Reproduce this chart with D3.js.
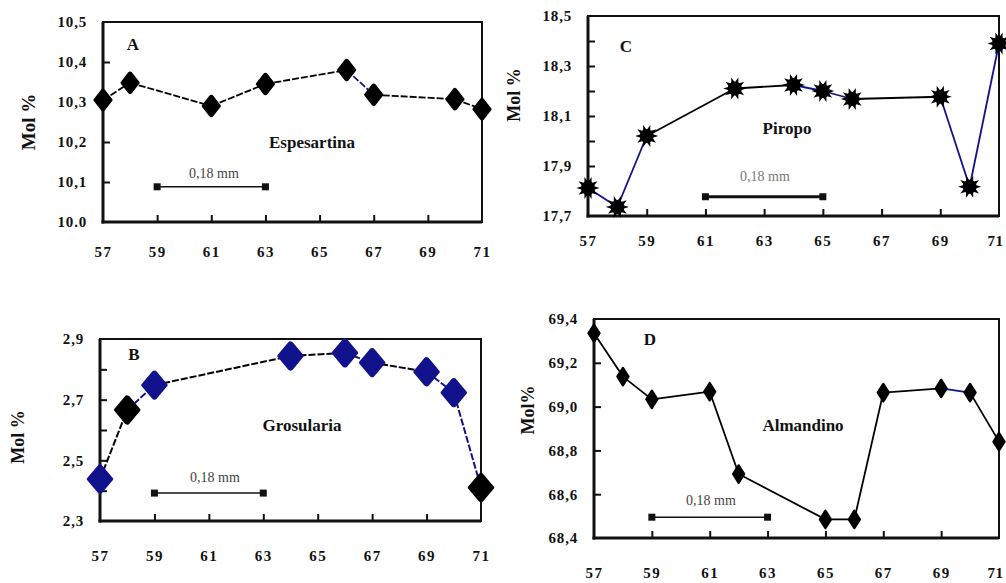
<!DOCTYPE html>
<html><head><meta charset="utf-8">
<script src="https://cdn.jsdelivr.net/npm/d3@7"></script>
<style>body{margin:0;background:#fff;}svg{display:block;}</style>
</head><body>
<svg id="c" width="1006" height="583"></svg>
<script>
// ---- data ----
const xTicks = [57, 59, 61, 63, 65, 67, 69, 71];
const xTickLabels = ["57", "59", "61", "63", "65", "67", "69", "71"];

const xA = [57, 58, 61, 63, 66, 67, 70, 71];
const yA = [10.305, 10.348, 10.29, 10.345, 10.38, 10.318, 10.307, 10.282];
const segColorA = ["k", "k", "k", "k", "b", "k", "k"];
const yTicksA = [10.0, 10.1, 10.2, 10.3, 10.4, 10.5];
const yLabelsA = ["10.0", "10,1", "10,2", "10,3", "10,4", "10,5"];

const xB = [57, 58, 59, 64, 66, 67, 69, 70, 71];
const yB = [2.438, 2.666, 2.748, 2.844, 2.854, 2.822, 2.792, 2.723, 2.41];
const markerColorB = ["b", "k", "b", "b", "b", "b", "b", "b", "k"];
const segColorB = ["k", "b", "k", "k", "b", "k", "b", "b"];
const yTicksB = [2.3, 2.4, 2.5, 2.6, 2.7, 2.8, 2.9];
const yLabelsB = ["2,3", "", "2,5", "", "2,7", "", "2,9"];

const xC = [57, 58, 59, 62, 64, 65, 66, 69, 70, 71];
const yC = [17.812, 17.736, 18.02, 18.21, 18.224, 18.2, 18.168, 18.177, 17.817, 18.39];
const segColorC = ["b", "b", "k", "k", "b", "b", "k", "b", "b"];
const yTicksC = [17.7, 17.8, 17.9, 18.0, 18.1, 18.2, 18.3, 18.4, 18.5];
const yLabelsC = ["17,7", "", "17,9", "", "18,1", "", "18,3", "", "18,5"];

const xD = [57, 58, 59, 61, 62, 65, 66, 67, 69, 70, 71];
const yD = [69.335, 69.137, 69.033, 69.068, 68.692, 68.485, 68.485, 69.064, 69.083, 69.064, 68.84];
const segColorD = ["k", "k", "k", "k", "k", "k", "k", "k", "b", "k"];
const yTicksD = [68.4, 68.6, 68.8, 69.0, 69.2, 69.4];
const yLabelsD = ["68,4", "68,6", "68,8", "69,0", "69,2", "69,4"];

const panelLetters = ["A", "B", "C", "D"];
const mineralNames = ["Espesartina", "Grosularia", "Piropo", "Almandino"];
const yTitles = ["Mol %", "Mol %", "Mol %", "Mol%"];
const scaleText = ["0,18 mm", "0,18 mm", "0,18 mm", "0,18 mm"];
const scaleBarFrom = [59, 59, 61, 59];
const scaleBarTo = [63, 63, 65, 63];
const scaleBarY = [10.088, 2.392, 17.777, 68.495];

// ---- drawing ----
const svg = d3.select("#c");
const COL = {k: "#000", b: "#12128c"};
const serif = "'Liberation Serif','DejaVu Serif',serif";

const panels = [
  {x: xA, y: yA, seg: segColorA, mc: null, yt: yTicksA, yl: yLabelsA, dom: [10.0, 10.5],
   box: [103, 482, 22, 222], xLabY: 254, marker: "dia", ms: 110, sx: 1.35, sw: 3, titleX: 28, titleY: 122, titleSize: 19,
   letter: [133, 50], name: [312, 148], sText: [214, 178]},
  {x: xB, y: yB, seg: segColorB, mc: markerColorB, yt: yTicksB, yl: yLabelsB, dom: [2.3, 2.9],
   box: [100, 481, 339, 521], xLabY: 558, marker: "dia", ms: 190, sx: 1.45, sw: 3.5, titleX: 18, titleY: 437, titleSize: 18,
   letter: [134, 360], name: [302, 431], sText: [215, 482]},
  {x: xC, y: yC, seg: segColorC, mc: null, yt: yTicksC, yl: yLabelsC, dom: [17.7, 18.5],
   box: [588, 999, 16, 216], xLabY: 243, marker: "star", ms: 150, titleX: 514, titleY: 95, titleSize: 18,
   letter: [626, 52], name: [787, 134], sText: [765, 181]},
  {x: xD, y: yD, seg: segColorD, mc: null, yt: yTicksD, yl: yLabelsD, dom: [68.4, 69.4],
   box: [594, 999, 319, 538], xLabY: 575, marker: "dia", ms: 90, sx: 1.1, sw: 2, titleX: 528, titleY: 410, titleSize: 18,
   letter: [650, 345], name: [803, 431], sText: [711, 505]}
];

panels.forEach((p, i) => {
  const [L, R, T, B] = p.box;
  const xs = d3.scaleLinear().domain([57, 71]).range([L, R]);
  const ys = d3.scaleLinear().domain(p.dom).range([B, T]);
  const g = svg.append("g");

  // box
  g.append("rect").attr("x", L).attr("y", T).attr("width", R - L).attr("height", B - T)
    .attr("fill", "none").attr("stroke", "#111").attr("stroke-width", 2);
  g.append("line").attr("x1", L).attr("x2", L).attr("y1", T).attr("y2", B + 1.5).attr("stroke", "#111").attr("stroke-width", 3);
  g.append("line").attr("x1", L - 1.5).attr("x2", R).attr("y1", B).attr("y2", B).attr("stroke", "#111").attr("stroke-width", 3);

  // y axis
  const yAx = g.append("g").attr("transform", `translate(${L},0)`)
    .call(d3.axisRight(ys).tickValues(p.yt).tickSize(7).tickFormat(() => ""));
  yAx.select(".domain").remove();
  yAx.selectAll("line").attr("stroke", "#111").attr("stroke-width", 2);
  yAx.selectAll(".tick").filter(d => d === p.dom[0] || d === p.dom[1]).remove();
  const yLab = g.append("g").attr("transform", `translate(${L - 13},0)`)
    .call(d3.axisLeft(ys).tickValues(p.yt).tickSize(0).tickFormat((d, j) => p.yl[j]));
  yLab.select(".domain").remove();
  yLab.selectAll("text").attr("font-family", serif).attr("font-weight", "bold").attr("font-size", 15)
    .attr("letter-spacing", 0.8).attr("fill", "#111");

  // x axis
  const xAx = g.append("g").attr("transform", `translate(0,${B})`)
    .call(d3.axisTop(xs).tickValues(xTicks.slice(1, -1)).tickSize(7).tickFormat(() => ""));
  xAx.select(".domain").remove();
  xAx.selectAll("line").attr("stroke", "#111").attr("stroke-width", 2);
  const xLab = g.append("g").attr("transform", `translate(0,${p.xLabY})`)
    .call(d3.axisBottom(xs).tickValues(xTicks).tickSize(0).tickFormat((d, j) => xTickLabels[j]));
  xLab.select(".domain").remove();
  xLab.selectAll("text").attr("dy", 0).attr("font-family", serif).attr("font-weight", "bold").attr("font-size", 15)
    .attr("letter-spacing", 1.5).attr("fill", "#111");
  if (R > 990) {
    xLab.selectAll(".tick").filter(d => d === 71).select("text")
      .attr("text-anchor", "end").attr("letter-spacing", 0.5).attr("x", 1003 - R);
  }

  // y title
  g.append("text").attr("transform", `translate(${p.titleX},${p.titleY}) rotate(-90)`)
    .attr("text-anchor", "middle").attr("dy", "0.35em")
    .attr("font-family", serif).attr("font-weight", "bold").attr("font-size", p.titleSize).attr("fill", "#111")
    .text(yTitles[i]);

  // letter and name
  g.append("text").attr("x", p.letter[0]).attr("y", p.letter[1]).attr("text-anchor", "middle")
    .attr("font-family", serif).attr("font-weight", "bold").attr("font-size", 17).attr("fill", "#111").text(panelLetters[i]);
  g.append("text").attr("x", p.name[0]).attr("y", p.name[1]).attr("text-anchor", "middle")
    .attr("font-family", serif).attr("font-weight", "bold").attr("font-size", 17).attr("fill", "#111").text(mineralNames[i]);

  // scale bar
  const sy = ys(scaleBarY[i]);
  const sx1 = xs(scaleBarFrom[i]), sx2 = xs(scaleBarTo[i]);
  g.append("line").attr("x1", sx1).attr("x2", sx2).attr("y1", sy).attr("y2", sy)
    .attr("stroke", "#111").attr("stroke-width", i === 2 ? 3 : 1.5);
  [sx1, sx2].forEach(sx => g.append("rect").attr("x", sx - 3.5).attr("y", sy - 3.5).attr("width", 7).attr("height", 7).attr("fill", "#111"));
  g.append("text").attr("x", p.sText[0]).attr("y", p.sText[1]).attr("text-anchor", "middle")
    .attr("font-family", serif).attr("font-size", 14).attr("fill", i === 2 ? "#777" : "#444").text(scaleText[i]);

  // lines
  for (let j = 0; j < p.x.length - 1; j++) {
    g.append("line")
      .attr("x1", xs(p.x[j])).attr("y1", ys(p.y[j]))
      .attr("x2", xs(p.x[j + 1])).attr("y2", ys(p.y[j + 1]))
      .attr("stroke", COL[p.seg[j]]).attr("stroke-width", i === 1 ? 2 : 1.8)
      .attr("stroke-dasharray", i === 0 || i === 1 ? "7,2" : null);
  }

  // markers
  const mg = g.append("g");
  p.x.forEach((xv, j) => {
    const cx = xs(xv), cy = ys(p.y[j]);
    const col = p.mc ? COL[p.mc[j]] : "#000";
    if (p.marker === "star") {
      mg.append("path").attr("transform", `translate(${cx},${cy}) rotate(18)`)
        .attr("d", d3.symbol().type(d3.symbolStar).size(150)()).attr("fill", col);
      mg.append("path").attr("transform", `translate(${cx},${cy}) rotate(-18)`)
        .attr("d", d3.symbol().type(d3.symbolStar).size(150)()).attr("fill", col);
      mg.append("circle").attr("cx", cx).attr("cy", cy).attr("r", 7).attr("fill", col);
    } else {
      mg.append("path").attr("transform", `translate(${cx},${cy}) scale(${p.sx},1)`)
        .attr("d", d3.symbol().type(d3.symbolDiamond).size(p.ms)())
        .attr("fill", col).attr("stroke", col).attr("stroke-width", p.sw).attr("stroke-linejoin", "round");
    }
  });
});
</script>
</body></html>
